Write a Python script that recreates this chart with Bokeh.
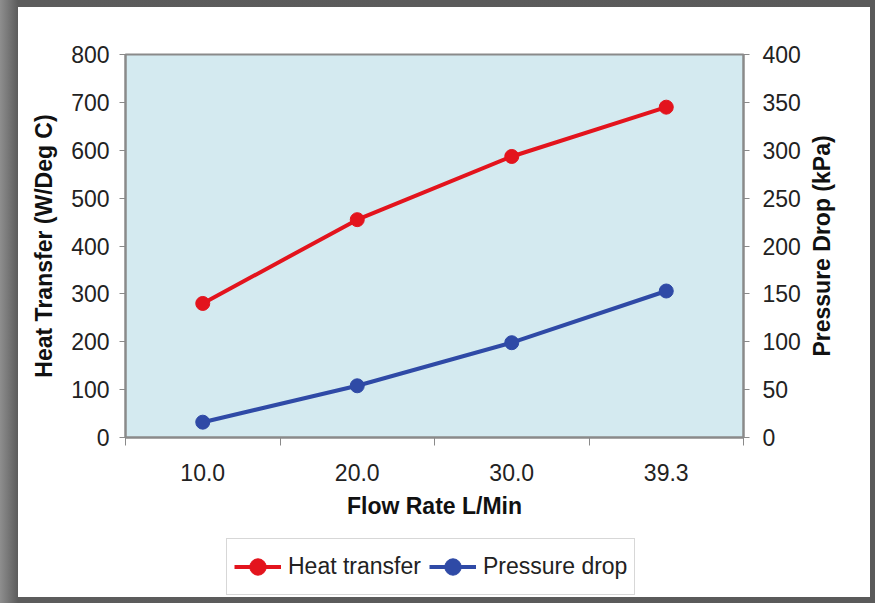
from bokeh.plotting import figure
from bokeh.layouts import column, row
from bokeh.models import (Range1d, LinearAxis, FixedTicker, Legend, LegendItem)
from bokeh.embed import file_html
from bokeh.resources import INLINE

categories = ["10.0", "20.0", "30.0", "39.3"]
heat_transfer = [280, 455, 587, 690]
pressure_drop = [16, 54, 99, 153]
left_ticks = [0, 100, 200, 300, 400, 500, 600, 700, 800]
right_ticks = [0, 50, 100, 150, 200, 250, 300, 350, 400]

xs = [i + 0.5 for i in range(len(categories))]
bounds = list(range(len(categories) + 1))

FONT = "Liberation Sans"
RED = "#e3141d"
BLUE = "#2f4aa6"
GRAY = "#8a8a8a"

p = figure(width=785, height=523, output_backend="svg", toolbar_location=None,
           x_range=Range1d(0, len(categories)), y_range=Range1d(0, 800),
           min_border_left=107, min_border_right=60, min_border_top=47,
           min_border_bottom=93, x_axis_location=None, y_axis_location=None)
p.extra_y_ranges = {"right": Range1d(0, 400)}
p.background_fill_color = "#d4eaf0"
p.border_fill_color = "#ffffff"
p.outline_line_color = GRAY
p.outline_line_width = 2
p.xgrid.visible = False
p.ygrid.visible = False

def style_axis(ax):
    ax.axis_line_color = GRAY
    ax.axis_line_width = 2
    ax.major_tick_line_color = GRAY
    ax.minor_tick_line_color = GRAY
    ax.major_label_text_font = FONT
    ax.major_label_text_font_size = "23px"
    ax.major_label_text_color = "#222222"
    ax.axis_label_text_font = FONT
    ax.axis_label_text_font_size = "23px"
    ax.axis_label_text_font_style = "bold"
    ax.axis_label_text_color = "#111111"

xaxis = LinearAxis(ticker=FixedTicker(ticks=xs, minor_ticks=bounds),
                   axis_label="Flow Rate L/Min")
xaxis.major_label_overrides = {x: c for x, c in zip(xs, categories)}
style_axis(xaxis)
xaxis.major_tick_out = 0
xaxis.major_tick_in = 0
xaxis.minor_tick_out = 8
xaxis.minor_tick_in = 0
xaxis.major_label_standoff = 18
xaxis.axis_label_standoff = 9
p.add_layout(xaxis, "below")

yaxis = LinearAxis(ticker=FixedTicker(ticks=left_ticks), axis_label="Heat Transfer (W/Deg C)")
style_axis(yaxis)
yaxis.major_tick_out = 6
yaxis.major_tick_in = 0
yaxis.minor_tick_out = 0
yaxis.major_label_standoff = 10
yaxis.axis_label_standoff = 11
p.add_layout(yaxis, "left")

raxis = LinearAxis(y_range_name="right", ticker=FixedTicker(ticks=right_ticks))
style_axis(raxis)
raxis.major_tick_out = 6
raxis.major_tick_in = 0
raxis.minor_tick_out = 0
raxis.major_label_standoff = 13
p.add_layout(raxis, "right")

p.line(xs, heat_transfer, line_color=RED, line_width=4)
p.scatter(xs, heat_transfer, size=14, fill_color=RED, line_color=RED)
p.line(xs, pressure_drop, line_color=BLUE, line_width=4, y_range_name="right")
p.scatter(xs, pressure_drop, size=14, fill_color=BLUE, line_color=BLUE, y_range_name="right")

# narrow strip carrying the right-hand axis title (reads bottom to top)
r = figure(width=67, height=523, output_backend="svg", toolbar_location=None,
           x_range=Range1d(0, 1), y_range=Range1d(0, 400),
           min_border_left=40, min_border_right=0, min_border_top=47,
           min_border_bottom=93, x_axis_location=None, y_axis_location=None)
r.background_fill_color = "#ffffff"
r.border_fill_color = "#ffffff"
r.outline_line_color = None
r.xgrid.visible = False
r.ygrid.visible = False
rlab = LinearAxis(ticker=FixedTicker(ticks=[]), axis_label="Pressure Drop (kPa)")
style_axis(rlab)
rlab.axis_line_color = None
rlab.major_tick_line_color = None
rlab.minor_tick_line_color = None
rlab.major_tick_out = 0
rlab.major_tick_in = 0
rlab.minor_tick_out = 0
rlab.minor_tick_in = 0
rlab.major_label_standoff = 0
rlab.axis_label_standoff = 9
r.add_layout(rlab, "left")

# legend strip below the chart (its sample renderers sit outside its visible ranges)
q = figure(width=852, height=67, output_backend="svg", toolbar_location=None,
           x_range=Range1d(-100, -99), y_range=Range1d(-100, -99),
           min_border_left=107, min_border_right=127, min_border_top=0,
           min_border_bottom=0, x_axis_location=None, y_axis_location=None)
q.background_fill_color = "#ffffff"
q.border_fill_color = "#ffffff"
q.outline_line_color = None
q.xgrid.visible = False
q.ygrid.visible = False
e1 = q.line(xs, heat_transfer, line_color=RED, line_width=4)
m1 = q.scatter(xs, heat_transfer, size=14, fill_color=RED, line_color=RED)
e2 = q.line(xs, pressure_drop, line_color=BLUE, line_width=4)
m2 = q.scatter(xs, pressure_drop, size=14, fill_color=BLUE, line_color=BLUE)

legend = Legend(items=[LegendItem(label="Heat transfer", renderers=[e1, m1]),
                       LegendItem(label="Pressure drop", renderers=[e2, m2])],
                orientation="horizontal", location=(101, 2))
legend.label_text_font = FONT
legend.label_text_font_size = "23px"
legend.label_text_color = "#222222"
legend.glyph_width = 47
legend.glyph_height = 41
legend.label_standoff = 7
legend.spacing = 8
legend.padding = 7
legend.margin = 0
legend.border_line_color = "#b0b0b0"
legend.border_line_width = 1
legend.background_fill_color = "#ffffff"
q.add_layout(legend, "center")

layout = column(row(p, r, spacing=0), q, spacing=0, margin=(7, 5, 6, 18),
                styles={"background-color": "#ffffff"})

html = file_html(layout, INLINE)
style = ('<style>html,body{margin:0;padding:0;'
         'background:linear-gradient(to right,#8e8e8e 0px,#5c5c5c 18px,#5a5a5a 100%) !important;}</style>')
html = html.replace("</head>", style + "</head>", 1)
open("out.html", "w").write(html)
